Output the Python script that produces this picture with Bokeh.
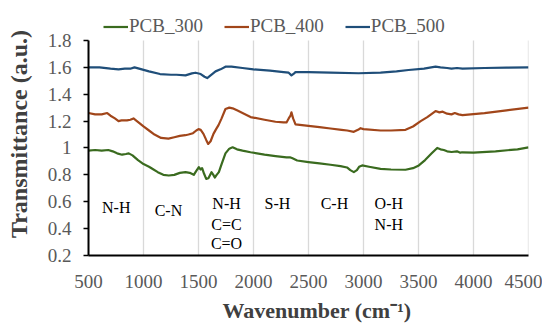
from bokeh.plotting import figure
from bokeh.models import (Range1d, FixedTicker, Legend, LegendItem, Title, ColumnDataSource)
from bokeh.core.properties import value
from bokeh.embed import file_html
from bokeh.resources import INLINE

# ---------------- data ----------------
wn_300 = [500, 560, 620, 680, 720, 760, 806, 840, 866, 900, 950, 1000, 1050, 1080, 1130, 1180,
          1230, 1280, 1330, 1382, 1420, 1457, 1480, 1503, 1520, 1533, 1550, 1570, 1590, 1618,
          1635, 1648, 1665, 1685, 1710, 1745, 1780, 1810, 1850, 1900, 1973, 2100, 2200, 2300,
          2336, 2350, 2397, 2500, 2600, 2700, 2791, 2850, 2880, 2912, 2940, 2960, 2988, 3050,
          3155, 3250, 3382, 3450, 3503, 3560, 3620, 3670, 3700, 3730, 3760, 3800, 3850, 3880,
          3897, 4000, 4200, 4400, 4500]
pcb_300 = [0.98, 0.985, 0.98, 0.985, 0.975, 0.96, 0.95, 0.955, 0.96, 0.945, 0.91, 0.88, 0.86,
           0.845, 0.82, 0.80, 0.795, 0.80, 0.815, 0.82, 0.815, 0.80, 0.83, 0.857, 0.84, 0.85,
           0.81, 0.77, 0.775, 0.82, 0.80, 0.78, 0.80, 0.82, 0.88, 0.96, 0.995, 1.005, 0.99,
           0.98, 0.968, 0.95, 0.94, 0.93, 0.93, 0.925, 0.907, 0.895, 0.885, 0.875, 0.865,
           0.855, 0.835, 0.82, 0.835, 0.86, 0.87, 0.86, 0.845, 0.84, 0.838, 0.85, 0.87, 0.91,
           0.96, 1.00, 0.99, 0.985, 0.975, 0.97, 0.975, 0.965, 0.968, 0.965, 0.975, 0.99, 1.005]

wn_400 = [500, 560, 620, 670, 700, 740, 773, 800, 850, 880, 909, 940, 1000, 1050, 1100, 1160,
          1227, 1280, 1330, 1380, 1409, 1450, 1480, 1500, 1520, 1545, 1570, 1588, 1610, 1636,
          1660, 1682, 1710, 1745, 1780, 1810, 1850, 1900, 1973, 2100, 2200, 2273, 2300, 2320,
          2336, 2345, 2360, 2382, 2500, 2600, 2700, 2800, 2852, 2912, 2950, 2973, 3000, 3155,
          3250, 3382, 3450, 3520, 3580, 3630, 3655, 3690, 3720, 3760, 3800, 3830, 3864, 3900,
          4100, 4300, 4500]
pcb_400 = [1.26, 1.25, 1.25, 1.26, 1.24, 1.22, 1.20, 1.205, 1.205, 1.21, 1.22, 1.20, 1.16, 1.13,
           1.10, 1.075, 1.07, 1.08, 1.09, 1.095, 1.10, 1.11, 1.13, 1.14, 1.135, 1.105, 1.06,
           1.03, 1.05, 1.105, 1.14, 1.17, 1.22, 1.29, 1.30, 1.295, 1.28, 1.26, 1.23, 1.21,
           1.195, 1.19, 1.19, 1.22, 1.24, 1.265, 1.22, 1.175, 1.165, 1.155, 1.145, 1.135, 1.13,
           1.12, 1.135, 1.147, 1.14, 1.13, 1.13, 1.135, 1.16, 1.20, 1.23, 1.26, 1.275, 1.265,
           1.27, 1.255, 1.25, 1.26, 1.25, 1.245, 1.26, 1.28, 1.30]

wn_500 = [500, 600, 700, 773, 830, 880, 918, 960, 1050, 1150, 1250, 1300, 1382, 1440, 1473,
          1520, 1555, 1579, 1610, 1655, 1700, 1745, 1800, 1900, 2000, 2150, 2273, 2320, 2345,
          2370, 2382, 2500, 2700, 2955, 3155, 3300, 3409, 3550, 3655, 3700, 3760, 3800, 3850,
          3900, 4100, 4300, 4500]
pcb_500 = [1.60, 1.60, 1.59, 1.585, 1.59, 1.59, 1.60, 1.59, 1.57, 1.55, 1.545, 1.545, 1.54,
           1.555, 1.56, 1.55, 1.53, 1.52, 1.54, 1.57, 1.585, 1.605, 1.605, 1.595, 1.585, 1.575,
           1.565, 1.56, 1.54, 1.555, 1.565, 1.565, 1.56, 1.556, 1.56, 1.57, 1.58, 1.59, 1.605,
           1.60, 1.595, 1.59, 1.595, 1.59, 1.595, 1.598, 1.60]

series_names = ["PCB_300", "PCB_400", "PCB_500"]
series_colors = ["#3A6B1F", "#A1461A", "#1F4E79"]

x_ticks = [500, 1000, 1500, 2000, 2500, 3000, 3500, 4000, 4500]
y_ticks = [0.2, 0.4, 0.6, 0.8, 1.0, 1.2, 1.4, 1.6, 1.8]
y_tick_labels = ["0.2", "0.4", "0.6", "0.8", "1", "1.2", "1.4", "1.6", "1.8"]
y_min, y_max = 0.2, 1.8

band_labels = ["N-H", "C-N", "N-H", "C=C", "C=O", "S-H", "C-H", "O-H", "N-H"]
band_x = [752, 1227, 1755, 1755, 1755, 2218, 2736, 3230, 3230]
band_y = [0.555, 0.535, 0.585, 0.43, 0.287, 0.59, 0.59, 0.59, 0.43]

FONT = "Liberation Serif"

# frame extends above 1.8 to host the legend (axis itself bounded at 0.2..1.8)
p = figure(width=542, height=333, output_backend="svg", toolbar_location=None,
           x_range=Range1d(500, 4500), y_range=Range1d(0.2, 2.008),
           frame_width=440, frame_height=243,
           min_border_left=88, min_border_right=14, min_border_top=12, min_border_bottom=78)
p.outline_line_color = None
p.background_fill_color = "white"

# vertical grid lines between 0.2 and 1.8
p.segment(x0=x_ticks, y0=[y_min] * len(x_ticks), x1=x_ticks, y1=[y_max] * len(x_ticks),
          line_color="#D9D9D9", line_width=1.3)

renderers = []
for wn, vals, c in zip([wn_300, wn_400, wn_500], [pcb_300, pcb_400, pcb_500], series_colors):
    r = p.line(wn, vals, line_color=c, line_width=2.2, line_join="round")
    renderers.append(r)

# axes
p.xaxis.ticker = FixedTicker(ticks=x_ticks)
p.yaxis.ticker = FixedTicker(ticks=y_ticks)
p.yaxis.bounds = (y_min, y_max)
p.yaxis.major_label_overrides = {t: l for t, l in zip(y_ticks, y_tick_labels)}
for ax in (p.xaxis, p.yaxis):
    ax.axis_line_color = "black"
    ax.axis_line_width = 2
    ax.minor_tick_line_color = None
    ax.major_label_text_font = FONT
    ax.major_label_text_font_size = "19px"
    ax.major_label_text_color = "#595959"
p.xaxis.major_tick_line_color = None
p.xaxis.major_label_standoff = 13
p.yaxis.major_tick_line_color = "black"
p.yaxis.major_tick_line_width = 1.5
p.yaxis.major_tick_out = 5
p.yaxis.major_tick_in = 0
p.yaxis.major_label_standoff = 12

p.yaxis.axis_label = "Transmittance (a.u.)"
p.yaxis.axis_label_text_font = FONT
p.yaxis.axis_label_text_font_style = "bold"
p.yaxis.axis_label_text_font_size = "24px"
p.yaxis.axis_label_text_color = "#404040"
p.yaxis.axis_label_standoff = 13

p.xgrid.grid_line_color = None
p.ygrid.grid_line_color = None

# x axis title as a below-panel title
xt = Title(text="Wavenumber (cm\u207b\u00b9)", align="left", offset=134, standoff=10,
           text_font=FONT, text_font_style="bold", text_font_size="22px",
           text_color="#404040")
p.add_layout(xt, "below")

# band annotations
src = ColumnDataSource(dict(x=band_x, y=band_y, t=band_labels))
p.text(x="x", y="y", text="t", source=src, text_font=value(FONT), text_font_size="16px",
       text_color="black", text_align="center", text_baseline="middle")

legend = Legend(items=[LegendItem(label=n, renderers=[r]) for n, r in zip(series_names, renderers)],
                orientation="horizontal", location=(15, 218),
                background_fill_alpha=0, border_line_alpha=0,
                label_text_font=FONT, label_text_font_size="19px", label_text_color="#595959",
                glyph_width=25, glyph_height=19, label_height=19, label_standoff=1,
                spacing=21, padding=0, margin=0)
p.add_layout(legend)

open("out.html", "w").write(file_html(p, INLINE))
